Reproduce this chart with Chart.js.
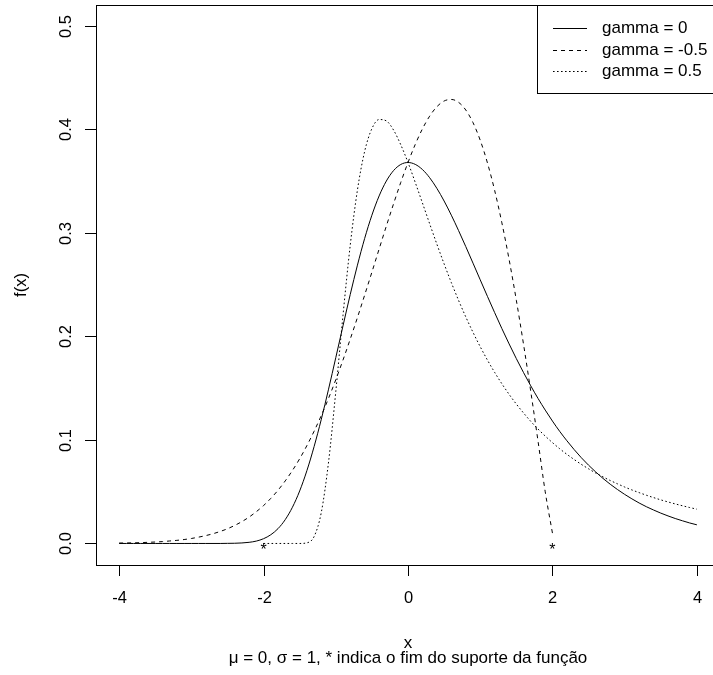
<!DOCTYPE html>
<html>
<head>
<meta charset="utf-8">
<title>GEV densities</title>
<script src="https://cdn.jsdelivr.net/npm/chart.js@4.4.1/dist/chart.umd.min.js"></script>
<style>
  html, body { margin: 0; padding: 0; background: #fff; overflow: hidden; }
  #wrap { width: 713px; height: 675px; overflow: hidden; }
  canvas { display: block; }
</style>
</head>
<body>
<div id="wrap"><canvas id="gevChart" width="740" height="675"></canvas></div>
<script>
// x grid of the curves
const xGrid = [
  -4.0, -3.9, -3.8, -3.7, -3.6, -3.5, -3.4, -3.3, -3.2, -3.1,
  -3.0, -2.9, -2.8, -2.7, -2.6, -2.5, -2.4, -2.3, -2.2, -2.1,
  -2.0, -1.9, -1.8, -1.7, -1.6, -1.5, -1.4, -1.3, -1.2, -1.1,
  -1.0, -0.9, -0.8, -0.7, -0.6, -0.5, -0.4, -0.3, -0.2, -0.1,
   0.0,  0.1,  0.2,  0.3,  0.4,  0.5,  0.6,  0.7,  0.8,  0.9,
   1.0,  1.1,  1.2,  1.3,  1.4,  1.5,  1.6,  1.7,  1.8,  1.9,
   2.0,  2.1,  2.2,  2.3,  2.4,  2.5,  2.6,  2.7,  2.8,  2.9,
   3.0,  3.1,  3.2,  3.3,  3.4,  3.5,  3.6,  3.7,  3.8,  3.9,
   4.0
];

// gamma = 0 (solid)
const fGamma0 = [
  0, 0, 0, 0, 0, 0, 0, 0, 0, 0,
  0, 0, 0, 0, 0, 0.0001, 0.0002, 0.0005, 0.0011, 0.0023,
  0.0046, 0.0084, 0.0143, 0.0230, 0.0350, 0.0507, 0.0703, 0.0936, 0.1200, 0.1490,
  0.1794, 0.2102, 0.2404, 0.2688, 0.2946, 0.3170, 0.3356, 0.3500, 0.3601, 0.3660,
  0.3679, 0.3661, 0.3611, 0.3532, 0.3429, 0.3307, 0.3170, 0.3022, 0.2867, 0.2707,
  0.2546, 0.2386, 0.2229, 0.2075, 0.1927, 0.1785, 0.1650, 0.1522, 0.1401, 0.1288,
  0.1182, 0.1083, 0.0992, 0.0907, 0.0828, 0.0756, 0.0690, 0.0628, 0.0572, 0.0521,
  0.0474, 0.0431, 0.0391, 0.0355, 0.0323, 0.0293, 0.0266, 0.0241, 0.0219, 0.0198,
  0.0180
];

// gamma = -0.5 (dashed), support ends at x = 2
const fGammaNeg = [
  0.0004, 0.0005, 0.0006, 0.0008, 0.0011, 0.0014, 0.0018, 0.0024, 0.0030, 0.0038,
  0.0048, 0.0061, 0.0076, 0.0094, 0.0116, 0.0142, 0.0174, 0.0211, 0.0255, 0.0307,
  0.0366, 0.0435, 0.0514, 0.0604, 0.0705, 0.0818, 0.0945, 0.1084, 0.1237, 0.1402,
  0.1581, 0.1772, 0.1973, 0.2182, 0.2399, 0.2620, 0.2843, 0.3065, 0.3280, 0.3487,
  0.3679, 0.3853, 0.4004, 0.4127, 0.4218, 0.4273, 0.4288, 0.4260, 0.4186, 0.4064,
  0.3894, 0.3675, 0.3409, 0.3096, 0.2742, 0.2349, 0.1922, 0.1467, 0.0990, 0.0499,
  0.0100, null, null, null, null, null, null, null, null, null,
  null, null, null, null, null, null, null, null, null, null,
  null
];

// gamma = 0.5 (dotted), support starts at x = -2
const fGammaPos = [
  null, null, null, null, null, null, null, null, null, null,
  null, null, null, null, null, null, null, null, null, null,
  0, 0, 0, 0, 0, 0, 0.0006, 0.0067, 0.0302, 0.0787,
  0.1465, 0.2204, 0.2879, 0.3414, 0.3787, 0.4006, 0.4094, 0.4081, 0.3992, 0.3850,
  0.3679, 0.3487, 0.3288, 0.3087, 0.2890, 0.2700, 0.2519, 0.2348, 0.2188, 0.2039,
  0.1900, 0.1771, 0.1652, 0.1542, 0.1440, 0.1346, 0.1260, 0.1179, 0.1105, 0.1037,
  0.0974, 0.0915, 0.0861, 0.0811, 0.0764, 0.0721, 0.0680, 0.0643, 0.0608, 0.0576,
  0.0545, 0.0517, 0.0491, 0.0466, 0.0443, 0.0421, 0.0401, 0.0382, 0.0364, 0.0347,
  0.0331
];

const seriesLabels = ['gamma = 0', 'gamma = -0.5', 'gamma = 0.5'];
const supportEnds = [-2, 2];
const xTicks = [-4, -2, 0, 2, 4];
const yTicks = [0, 0.1, 0.2, 0.3, 0.4, 0.5];
const yTickLabels = ['0.0', '0.1', '0.2', '0.3', '0.4', '0.5'];

const FONT = '"Liberation Sans", Arial, sans-serif';
const dashes = [[], [4, 4], [1.6, 2.4]];

function toPoints(ys) {
  return xGrid.map((x, i) => ({ x: x, y: ys[i] }));
}

// R-style box, ticks, labels, legend and support markers
const baseGraphics = {
  id: 'baseGraphics',
  afterDraw(chart) {
    const ctx = chart.ctx;
    const { left, right, top, bottom } = chart.chartArea;
    const xs = chart.scales.x, ys = chart.scales.y;
    ctx.save();
    ctx.strokeStyle = '#000';
    ctx.fillStyle = '#000';
    ctx.lineWidth = 1;
    ctx.setLineDash([]);

    // plot box
    ctx.strokeRect(left + 0.5, top + 0.5, right - left, bottom - top);

    // y axis
    ctx.font = '16.5px ' + FONT;
    ctx.textAlign = 'center';
    ctx.textBaseline = 'middle';
    yTicks.forEach((v, i) => {
      const py = Math.round(ys.getPixelForValue(v)) + 0.5;
      ctx.beginPath();
      ctx.moveTo(left - 11, py);
      ctx.lineTo(left + 0.5, py);
      ctx.stroke();
      ctx.save();
      ctx.translate(66, py);
      ctx.rotate(-Math.PI / 2);
      ctx.fillText(yTickLabels[i], 0, 0);
      ctx.restore();
    });

    // x axis
    xTicks.forEach(v => {
      const px = Math.round(xs.getPixelForValue(v)) + 0.5;
      ctx.beginPath();
      ctx.moveTo(px, bottom + 0.5);
      ctx.lineTo(px, bottom + 11);
      ctx.stroke();
      ctx.fillText(String(v), px, 598);
    });

    // axis titles
    const cx = (left + right) / 2;
    ctx.save();
    ctx.translate(21, (top + bottom) / 2);
    ctx.rotate(-Math.PI / 2);
    ctx.fillText('f(x)', 0, 0);
    ctx.restore();
    ctx.font = '17px ' + FONT;
    ctx.textBaseline = 'alphabetic';
    ctx.fillText('x', cx, 648);
    ctx.fillText('\u03bc = 0, \u03c3 = 1, * indica o fim do suporte da fun\u00e7\u00e3o', cx, 663);

    // end-of-support markers
    ctx.font = '16px ' + FONT;
    supportEnds.forEach(v => {
      ctx.fillText('*', xs.getPixelForValue(v), ys.getPixelForValue(0) + 12);
    });

    // legend
    const lx = 537, ly = top;
    ctx.strokeRect(lx + 0.5, ly + 0.5, right - lx, 88);
    ctx.textAlign = 'left';
    ctx.textBaseline = 'middle';
    ctx.font = '17px ' + FONT;
    seriesLabels.forEach((lab, i) => {
      const y = Math.round(ly + 23 + i * 21.5) + 0.5;
      ctx.setLineDash(dashes[i]);
      ctx.beginPath();
      ctx.moveTo(553, y);
      ctx.lineTo(587, y);
      ctx.stroke();
      ctx.setLineDash([]);
      ctx.fillText(lab, 602, y);
    });
    ctx.restore();
  }
};

const ctx = document.getElementById('gevChart').getContext('2d');

const gevChart = new Chart(ctx, {
  type: 'line',
  data: {
    datasets: [fGamma0, fGammaNeg, fGammaPos].map((ys, i) => ({
      label: seriesLabels[i],
      data: toPoints(ys),
      borderColor: '#000',
      borderWidth: 1,
      borderDash: dashes[i],
      pointRadius: 0,
      fill: false,
      spanGaps: false,
      cubicInterpolationMode: 'monotone'
    }))
  },
  options: {
    responsive: false,
    animation: false,
    devicePixelRatio: 1,
    layout: { padding: { left: 96, right: 20, top: 5, bottom: 110 } },
    plugins: {
      legend: { display: false },
      tooltip: { enabled: false }
    },
    scales: {
      x: { type: 'linear', display: false, min: -4.32, max: 4.32 },
      y: { type: 'linear', display: false, min: -0.0208, max: 0.52 }
    }
  },
  plugins: [baseGraphics]
});
</script>
</body>
</html>
